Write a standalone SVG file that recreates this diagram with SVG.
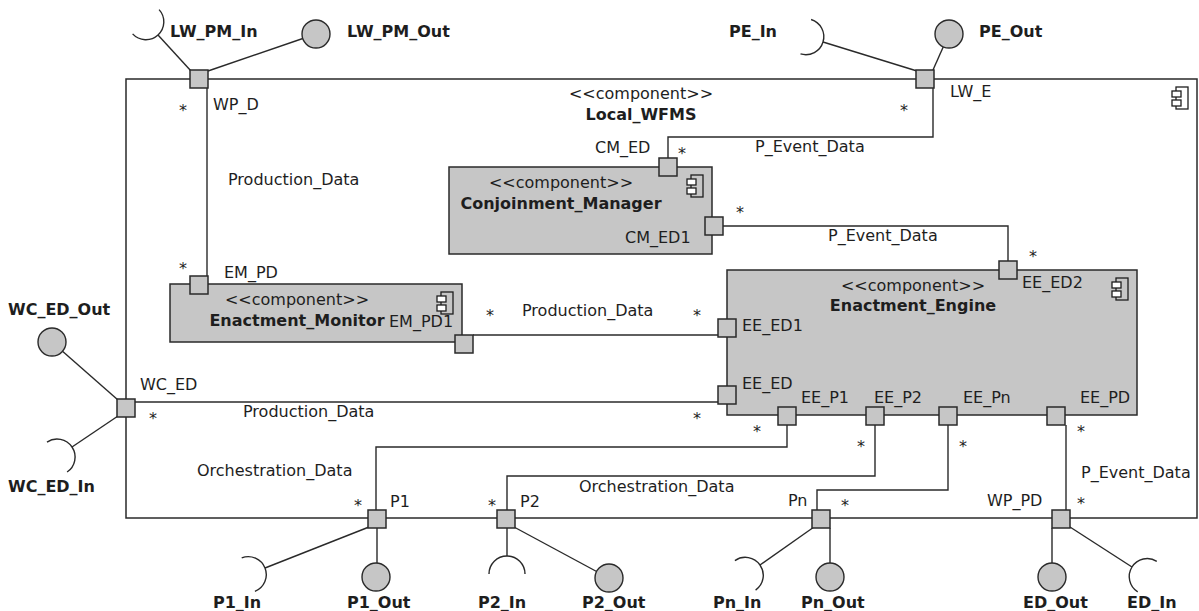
<svg xmlns="http://www.w3.org/2000/svg" width="1199" height="611" viewBox="0 0 1199 611">
  <style>
    text { font-family: "DejaVu Sans", "Liberation Sans", sans-serif; font-size: 16px; fill: #1e1e1e; }
    .b { font-weight: bold; }
    .c { text-anchor: middle; }
    .box { fill: #c6c6c6; stroke: #2a2a2a; stroke-width: 1.5; }
    .outer { fill: #ffffff; stroke: #2a2a2a; stroke-width: 1.5; }
    .port { fill: #c6c6c6; stroke: #2a2a2a; stroke-width: 1.5; }
    .ln { fill: none; stroke: #2a2a2a; stroke-width: 1.4; }
    .ball { fill: #c6c6c6; stroke: #2a2a2a; stroke-width: 1.4; }
    .icon { fill: none; stroke: #1e1e1e; stroke-width: 1.3; }
    .iconsm { fill: #ffffff; stroke: #1e1e1e; stroke-width: 1.3; }
  </style>
  <defs>
    <!-- component glyph, origin at the box's top-right corner -->
    <g id="compIcon">
      <rect class="icon" x="-21" y="8" width="12" height="22"/>
      <rect class="iconsm" x="-25" y="12" width="9" height="6"/>
      <rect class="iconsm" x="-25" y="21" width="9" height="6"/>
    </g>
  </defs>

  <!-- enclosing component -->
  <g id="Local_WFMS">
    <rect class="outer" x="126" y="79" width="1071" height="439"/>
    <use href="#compIcon" x="1197" y="79"/>
    <text class="c" x="641" y="99">&lt;&lt;component&gt;&gt;</text>
    <text class="c b" x="641" y="120">Local_WFMS</text>
  </g>

  <g id="Conjoinment_Manager">
    <rect class="box" x="449" y="167" width="263" height="87"/>
    <use href="#compIcon" x="712" y="167"/>
    <text class="c" x="561" y="188">&lt;&lt;component&gt;&gt;</text>
    <text class="c b" x="561" y="209">Conjoinment_Manager</text>
  </g>

  <g id="Enactment_Monitor">
    <rect class="box" x="170" y="284" width="292" height="58"/>
    <use href="#compIcon" x="462" y="284"/>
    <text class="c" x="297" y="305">&lt;&lt;component&gt;&gt;</text>
    <text class="c b" x="297" y="326">Enactment_Monitor</text>
  </g>

  <g id="Enactment_Engine">
    <rect class="box" x="727" y="270" width="410" height="145"/>
    <use href="#compIcon" x="1137" y="270"/>
    <text class="c" x="913" y="291">&lt;&lt;component&gt;&gt;</text>
    <text class="c b" x="913" y="311">Enactment_Engine</text>
  </g>

  <!-- connectors between ports -->
  <g id="connectors">
    <path class="ln" d="M207,88 V276"/>
    <path class="ln" d="M933,88 V137 H668 V158"/>
    <path class="ln" d="M723,226 H1008 V261"/>
    <path class="ln" d="M473,335 H718"/>
    <path class="ln" d="M135,402 H718"/>
    <path class="ln" d="M787,425 V447 H376 V510"/>
    <path class="ln" d="M875,425 V476 H507 V510"/>
    <path class="ln" d="M948,425 V490 H817 V510"/>
    <path class="ln" d="M1066,425 V510"/>

    <!-- provided / required interfaces -->
    <path class="ln" d="M191,71 L158,35"/>
    <path class="ln" d="M132.6,33.9 A18,18 0 0 0 158,35 A18,18 0 0 0 159.1,9.6"/>
    <path class="ln" d="M208,71 L302.8,38.5"/>
    <circle class="ball" cx="316" cy="34" r="14"/>

    <path class="ln" d="M917,71 L823,42"/>
    <path class="ln" d="M800.5,53.9 A18,18 0 0 0 823,42 A18,18 0 0 0 811.1,19.5"/>
    <path class="ln" d="M933,70 L943.3,46.8"/>
    <circle class="ball" cx="949" cy="34" r="14"/>

    <path class="ln" d="M118,400 L62.5,351.2"/>
    <circle class="ball" cx="52" cy="342" r="14"/>
    <path class="ln" d="M118,416 L72,447"/>
    <path class="ln" d="M67.1,472 A18,18 0 0 0 72,447 A18,18 0 0 0 47,442.1"/>

    <path class="ln" d="M369,527 L265,568"/>
    <path class="ln" d="M254.9,591.4 A18,18 0 0 0 265,568 A18,18 0 0 0 241.7,557.9"/>
    <path class="ln" d="M377,528 V563"/>
    <circle class="ball" cx="376" cy="577" r="14"/>

    <path class="ln" d="M507,528 V556"/>
    <path class="ln" d="M525,574 A18,18 0 0 0 507,556 A18,18 0 0 0 489,574"/>
    <path class="ln" d="M514,527 L596.6,571.5"/>
    <circle class="ball" cx="609" cy="578" r="14"/>

    <path class="ln" d="M814,527 L760,565"/>
    <path class="ln" d="M755.6,590.1 A18,18 0 0 0 760,565 A18,18 0 0 0 734.9,560.6"/>
    <path class="ln" d="M830,528 V563"/>
    <circle class="ball" cx="830" cy="577" r="14"/>

    <path class="ln" d="M1052,528 V563"/>
    <circle class="ball" cx="1052" cy="577" r="14"/>
    <path class="ln" d="M1070,527 L1132,567"/>
    <path class="ln" d="M1156.8,561.3 A18,18 0 0 0 1132,567 A18,18 0 0 0 1137.7,591.8"/>
  </g>

  <!-- ports -->
  <g id="ports">
    <rect class="port" x="190" y="70" width="18" height="18"/>
    <rect class="port" x="916" y="70" width="18" height="18"/>
    <rect class="port" x="117" y="399" width="18" height="18"/>
    <rect class="port" x="368" y="510" width="18" height="18"/>
    <rect class="port" x="497" y="510" width="18" height="18"/>
    <rect class="port" x="812" y="510" width="18" height="18"/>
    <rect class="port" x="1052" y="510" width="18" height="18"/>
    <rect class="port" x="659" y="158" width="18" height="18"/>
    <rect class="port" x="705" y="217" width="18" height="18"/>
    <rect class="port" x="190" y="276" width="18" height="18"/>
    <rect class="port" x="455" y="335" width="18" height="18"/>
    <rect class="port" x="999" y="261" width="18" height="18"/>
    <rect class="port" x="718" y="319" width="18" height="18"/>
    <rect class="port" x="718" y="386" width="18" height="18"/>
    <rect class="port" x="778" y="407" width="18" height="18"/>
    <rect class="port" x="866" y="407" width="18" height="18"/>
    <rect class="port" x="939" y="407" width="18" height="18"/>
    <rect class="port" x="1047" y="407" width="18" height="18"/>
  </g>

  <!-- port names -->
  <g id="port-labels">
    <text x="213" y="110">WP_D</text>
    <text x="950" y="97">LW_E</text>
    <text x="140" y="390">WC_ED</text>
    <text x="390" y="507">P1</text>
    <text x="520" y="507">P2</text>
    <text x="788" y="506">Pn</text>
    <text x="987" y="506">WP_PD</text>
    <text x="595" y="153">CM_ED</text>
    <text x="625" y="243">CM_ED1</text>
    <text x="224" y="278">EM_PD</text>
    <text x="389" y="327">EM_PD1</text>
    <text x="1022" y="288">EE_ED2</text>
    <text x="742" y="331">EE_ED1</text>
    <text x="742" y="389">EE_ED</text>
    <text x="801" y="403">EE_P1</text>
    <text x="874" y="403">EE_P2</text>
    <text x="963" y="403">EE_Pn</text>
    <text x="1080" y="403">EE_PD</text>
  </g>

  <!-- connector names and multiplicities -->
  <g id="connector-labels">
    <text x="228" y="185">Production_Data</text>
    <text x="522" y="316">Production_Data</text>
    <text x="243" y="417">Production_Data</text>
    <text x="755" y="152">P_Event_Data</text>
    <text x="828" y="241">P_Event_Data</text>
    <text x="1081" y="478">P_Event_Data</text>
    <text x="197" y="476">Orchestration_Data</text>
    <text x="579" y="492">Orchestration_Data</text>

    <text class="c" x="183" y="116">*</text>
    <text class="c" x="904" y="116">*</text>
    <text class="c" x="682" y="159">*</text>
    <text class="c" x="740" y="218">*</text>
    <text class="c" x="1033" y="262">*</text>
    <text class="c" x="183" y="274">*</text>
    <text class="c" x="490" y="321">*</text>
    <text class="c" x="697" y="321">*</text>
    <text class="c" x="153" y="424">*</text>
    <text class="c" x="697" y="424">*</text>
    <text class="c" x="757" y="437">*</text>
    <text class="c" x="861" y="452">*</text>
    <text class="c" x="963" y="452">*</text>
    <text class="c" x="1081" y="437">*</text>
    <text class="c" x="358" y="511">*</text>
    <text class="c" x="492" y="511">*</text>
    <text class="c" x="845" y="511">*</text>
    <text class="c" x="1081" y="509">*</text>
  </g>

  <!-- interface names -->
  <g id="interface-labels">
    <text class="b" x="170" y="37">LW_PM_In</text>
    <text class="b" x="347" y="37">LW_PM_Out</text>
    <text class="b" x="729" y="37">PE_In</text>
    <text class="b" x="979" y="37">PE_Out</text>
    <text class="b" x="8" y="315">WC_ED_Out</text>
    <text class="b" x="8" y="492">WC_ED_In</text>
    <text class="b" x="213" y="608">P1_In</text>
    <text class="b" x="347" y="608">P1_Out</text>
    <text class="b" x="478" y="608">P2_In</text>
    <text class="b" x="582" y="608">P2_Out</text>
    <text class="b" x="713" y="608">Pn_In</text>
    <text class="b" x="801" y="608">Pn_Out</text>
    <text class="b" x="1023" y="608">ED_Out</text>
    <text class="b" x="1127" y="608">ED_In</text>
  </g>
</svg>
